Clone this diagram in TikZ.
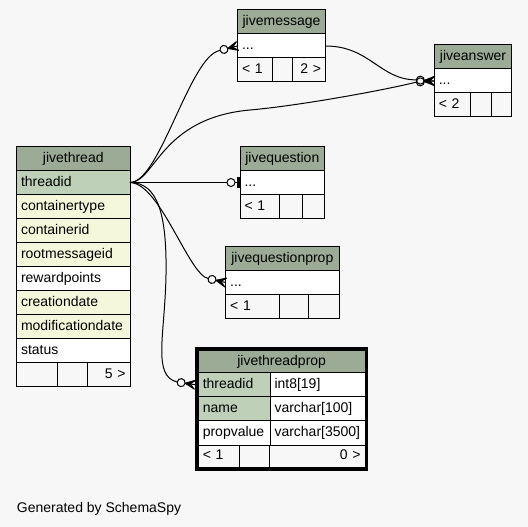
\documentclass[tikz,border=0pt]{standalone}
\usepackage{fontspec}
\setmainfont{Liberation Sans}
\usetikzlibrary{calc}
\definecolor{bgc}{HTML}{F7F7F7}
\definecolor{hdr}{HTML}{9BAB96}
\definecolor{pkc}{HTML}{BED1B8}
\definecolor{idx}{HTML}{F4F7DA}
\definecolor{foot}{HTML}{F7F7F7}
\newcommand{\tabfont}{\fontsize{14}{16}\selectfont}
\tikzset{
  cellbox/.style={draw=black, line width=1pt, inner sep=0pt, outer sep=0pt, anchor=north west,
    text height=10.5pt, text depth=3.5pt, font=\tabfont},
  conn/.style={draw=black, line width=1pt},
  tblframe/.style={draw=black, line width=3.3pt},
}
\newcommand{\tcell}[8]{\pgfmathsetmacro\tcw{#4-9}\node[cellbox, fill=#6, minimum width=#4pt, minimum height=#5pt, text width=\tcw pt, align=#7] (#1) at (#2,#3) {#8};}
\newcommand{\hcell}[6]{\node[cellbox, fill=hdr, minimum width=#4pt, minimum height=#5pt, align=center] (#1) at (#2,#3) {#6};}
\newcommand{\crowodot}[3]{%
  \begin{scope}[shift={#2}, rotate=#3]
    \filldraw[conn, fill=black, line join=round] (10,0) -- (0,-4.5) -- (5,0) -- (0,4.5) -- cycle;
    \draw[conn] (5,0) -- (0,0);
    \draw[conn] (14,0) circle[radius=4pt];
    \coordinate (#1) at (18,0);
  \end{scope}}
\newcommand{\teeodot}[3]{%
  \begin{scope}[shift={#2}, rotate=#3]
    \draw[conn] (0,0) -- (5,0);
    \filldraw[conn, fill=black] (1,-5) rectangle (3,5);
    \draw[conn] (9,0) circle[radius=4pt];
    \coordinate (#1) at (13,0);
  \end{scope}}
\begin{document}
\begin{tikzpicture}[x=1pt,y=-1pt]
\useasboundingbox (0,0) rectangle (528,527);
\fill[bgc] (0,0) rectangle (528,527);

% jivethread
\hcell{jt}{16.5}{146.5}{113.5}{24}{jivethread}
\tcell{jtthreadid}{16.5}{170.5}{113.5}{24}{pkc}{left}{threadid}
\tcell{jtcontainertype}{16.5}{194.5}{113.5}{24}{idx}{left}{containertype}
\tcell{jtcontainerid}{16.5}{218.5}{113.5}{24}{idx}{left}{containerid}
\tcell{jtrootmessageid}{16.5}{242.5}{113.5}{24}{idx}{left}{rootmessageid}
\tcell{jtrewardpoints}{16.5}{266.5}{113.5}{24}{white}{left}{rewardpoints}
\tcell{jtcreationdate}{16.5}{290.5}{113.5}{24}{idx}{left}{creationdate}
\tcell{jtmodificationdate}{16.5}{314.5}{113.5}{24}{idx}{left}{modificationdate}
\tcell{jtstatus}{16.5}{338.5}{113.5}{24}{white}{left}{status}
\tcell{jtfa}{16.5}{362.5}{41.2}{24}{foot}{left}{}
\tcell{jtfb}{57.7}{362.5}{29.6}{24}{foot}{left}{}
\tcell{jtfc}{87.3}{362.5}{42.7}{24}{foot}{right}{5 >}

% jivemessage
\hcell{jm}{237.5}{10}{88}{24}{jivemessage}
\tcell{jmdots}{237.5}{34}{88}{24}{white}{left}{...}
\tcell{jmfa}{237.5}{58}{34.8}{24}{foot}{left}{< 1}
\tcell{jmfb}{272.3}{58}{20.4}{24}{foot}{left}{}
\tcell{jmfc}{292.7}{58}{32.8}{24}{foot}{right}{2 >}

% jiveanswer
\hcell{ja}{434.3}{45}{77.4}{24}{jiveanswer}
\tcell{jadots}{434.3}{69}{77.4}{24}{white}{left}{...}
\tcell{jafa}{434.3}{93}{36.4}{24}{foot}{left}{< 2}
\tcell{jafb}{470.7}{93}{20.3}{24}{foot}{left}{}
\tcell{jafc}{491}{93}{20.7}{24}{foot}{left}{}

% jivequestion
\hcell{jq}{240}{146.5}{84.7}{24}{jivequestion}
\tcell{jqdots}{240}{170.5}{84.7}{24}{white}{left}{...}
\tcell{jqfa}{240}{194.5}{39.3}{24}{foot}{left}{< 1}
\tcell{jqfb}{279.3}{194.5}{22.7}{24}{foot}{left}{}
\tcell{jqfc}{302}{194.5}{22.7}{24}{foot}{left}{}

% jivequestionprop
\hcell{jqp}{225.7}{246.5}{113.3}{24}{jivequestionprop}
\tcell{jqpdots}{225.7}{270.5}{113.3}{24}{white}{left}{...}
\tcell{jqpfa}{225.7}{294.5}{53.3}{24}{foot}{left}{< 1}
\tcell{jqpfb}{279}{294.5}{29.3}{24}{foot}{left}{}
\tcell{jqpfc}{308.3}{294.5}{30.7}{24}{foot}{left}{}

% jivethreadprop
\hcell{jtp}{198.3}{350.7}{166.7}{22}{jivethreadprop}
\tcell{jtpthreadid}{198.3}{372.7}{71.7}{24}{pkc}{left}{threadid}
\tcell{jtpthreadidtype}{270}{372.7}{95}{24}{white}{left}{int8[19]}
\tcell{jtpname}{198.3}{396.7}{71.7}{24}{pkc}{left}{name}
\tcell{jtpnametype}{270}{396.7}{95}{24}{white}{left}{varchar[100]}
\tcell{jtppropvalue}{198.3}{420.7}{71.7}{24.3}{white}{left}{propvalue}
\tcell{jtppropvaluetype}{270}{420.7}{95}{24.3}{white}{left}{varchar[3500]}
\tcell{jtpfa}{198.3}{445}{40.7}{22.5}{foot}{left}{< 1}
\tcell{jtpfb}{239}{445}{30.3}{22.5}{foot}{left}{}
\tcell{jtpfc}{269.3}{445}{95.7}{22.5}{foot}{right}{0 >}
\draw[tblframe] ($(jtp.north west)+(-1.65,-1.65)$) rectangle ($(jtpfc.south east)+(1.65,1.65)$);

% arrow ends
\crowodot{tipA}{(jmdots.west)}{194.2}
\crowodot{tipB}{(jadots.west)}{183.6}
\crowodot{tipC}{(jadots.west)}{176.4}
\teeodot{tipD}{(jqdots.west)}{180}
\crowodot{tipE}{(jqpdots.west)}{167.4}
\crowodot{tipF}{($(jtpthreadid.west)+(-3.3,0)$)}{171.5}

% connectors
\draw[conn] (jtthreadid.east) .. controls (160,182.5) and (190,55) .. (tipA);
\draw[conn] (jtthreadid.east) .. controls (155,182.5) and (160,118) .. (250,110) .. controls (300,105.6) and (385,90) .. (tipB);
\draw[conn] (jmdots.east) .. controls (370,46) and (380,80) .. (tipC);
\draw[conn] (jtthreadid.east) -- (tipD);
\draw[conn] (jtthreadid.east) .. controls (160,183) and (188.5,274.2) .. (tipE);
\draw[conn] (jtthreadid.east) .. controls (158,182.5) and (167,215) .. (166,275) .. controls (165,335) and (152,376) .. (tipF);

\node[anchor=base west, font=\tabfont, inner sep=0pt] (gen) at (16.7,512.3) {Generated by SchemaSpy};
\end{tikzpicture}
\end{document}
